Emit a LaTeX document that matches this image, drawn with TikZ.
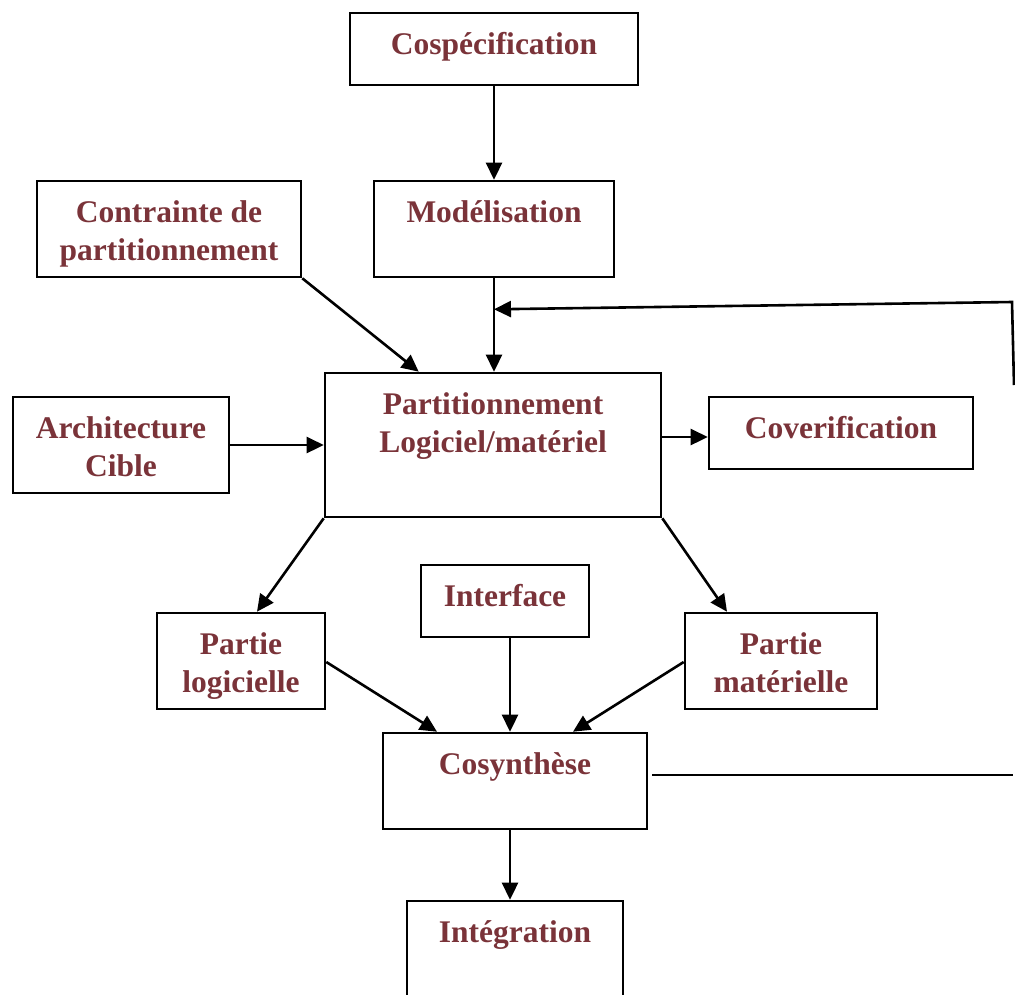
\documentclass[tikz,border=0pt]{standalone}
\usepackage{fontspec}
\setmainfont{Liberation Serif}
\usetikzlibrary{arrows.meta,calc}
\definecolor{labelred}{RGB}{122,51,57}
\begin{document}
\begin{tikzpicture}[x=1pt,y=-1pt,
  box/.style={draw,line width=2.6pt,inner sep=0pt,rectangle},
  txt/.style={text=labelred,font=\fontsize{31.5}{38}\selectfont\bfseries,
    align=center,inner sep=0pt,anchor=base},
  link/.style={line width=2.6pt,-{Triangle[length=17pt,width=16pt]}},
  plain/.style={line width=2.6pt}]
\useasboundingbox (0,0) rectangle (1015,994);
\fill[white] (0,0) rectangle (1015,994);

% boxes
\node[box,minimum width=288,minimum height=72] (cosp)  at (494,49) {};
\node[box,minimum width=240,minimum height=96] (mod)   at (494,229) {};
\node[box,minimum width=264,minimum height=96] (contr) at (169,229) {};
\node[box,minimum width=336,minimum height=144] (part) at (493,445) {};
\node[box,minimum width=216,minimum height=96] (arch)  at (121,445) {};
\node[box,minimum width=264,minimum height=72] (cover) at (841,433) {};
\node[box,minimum width=168,minimum height=72] (inter) at (505,601) {};
\node[box,minimum width=168,minimum height=96] (plog)  at (241,661) {};
\node[box,minimum width=192,minimum height=96] (pmat)  at (781,661) {};
\node[box,minimum width=264,minimum height=96] (cosyn) at (515,781) {};
\node[box,minimum width=216,minimum height=144] (integ) at (515,973) {};

% labels: first baseline 43 below the box top, lines 38 apart
% (the base anchor of a two-line label sits on its last line)
\node[txt] (cosp-t)  at ($(cosp.north)+(0,43)$)  {Cospécification};
\node[txt] (mod-t)   at ($(mod.north)+(0,43)$)   {Modélisation};
\node[txt] (contr-t) at ($(contr.north)+(0,81)$) {Contrainte de\\partitionnement};
\node[txt] (part-t)  at ($(part.north)+(0,81)$)  {Partitionnement\\Logiciel/matériel};
\node[txt] (arch-t)  at ($(arch.north)+(0,81)$)  {Architecture\\Cible};
\node[txt] (cover-t) at ($(cover.north)+(0,43)$) {Coverification};
\node[txt] (inter-t) at ($(inter.north)+(0,43)$) {Interface};
\node[txt] (plog-t)  at ($(plog.north)+(0,81)$)  {Partie\\logicielle};
\node[txt] (pmat-t)  at ($(pmat.north)+(0,81)$)  {Partie\\matérielle};
\node[txt] (cosyn-t) at ($(cosyn.north)+(0,43)$) {Cosynthèse};
\node[txt] (integ-t) at ($(integ.north)+(0,43)$) {Intégration};

% flow
\draw[link] (cosp.south) -- (mod.north);
\draw[link] (mod.south) -- (mod.south |- part.north);
\draw[link] (contr.south east) -- ($(part.north west)+(95,0)$);
\draw[link] (arch.east) -- (arch.east -| part.west);
\coordinate (pe) at ($(part.east)+(0,-8)$);
\draw[link] (pe) -- (pe -| cover.west);
\draw[link] (part.south west) -- ($(plog.north)+(16,0)$);
\draw[link] (part.south east) -- ($(pmat.north)+(-54,0)$);
\draw[link] ($(plog.east)+(0,1)$) -- ($(cosyn.north)+(-78,0)$);
\draw[link] ($(inter.south)+(5,0)$) -- ($(cosyn.north)+(-5,0)$);
\draw[link] ($(pmat.west)+(0,1)$) -- ($(cosyn.north)+(58,0)$);
\draw[link] ($(cosyn.south)+(-5,0)$) -- ($(integ.north)+(-5,0)$);

% feedback from Cosynthèse back to the partitioning input
\coordinate (fbA) at ($(cosyn.east)+(4,-6)$);
\coordinate (fbB) at (1013,775);
\coordinate (fbC) at (1014,385);
\coordinate (fbD) at (1012,302);
\coordinate (fbE) at ($(mod.south)+(0,31)$);
\draw[plain] (fbA) -- (fbB);
\draw[link] (fbC) -- (fbD) -- (fbE);
\end{tikzpicture}
\end{document}
